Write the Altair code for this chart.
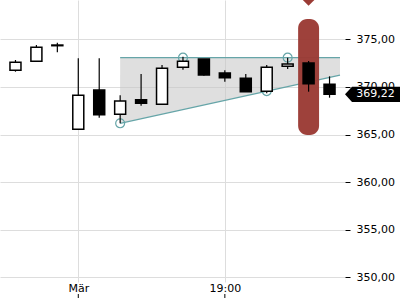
import altair as alt
import pandas as pd

# ---- data ----
idx = list(range(16))
opens  = [371.74, 372.69, 374.40, 365.55, 369.67, 367.12, 368.66, 368.17, 372.06, 372.93, 371.46, 370.90, 369.54, 372.16, 372.51, 370.27]
highs  = [372.83, 374.40, 374.64, 373.00, 373.00, 369.12, 371.36, 372.30, 373.17, 372.93, 371.74, 371.36, 372.30, 373.07, 372.72, 371.11]
lows   = [371.60, 372.69, 373.63, 365.55, 366.76, 366.18, 368.03, 368.17, 371.81, 371.18, 370.55, 369.50, 369.33, 371.88, 369.50, 368.87]
closes = [372.58, 374.16, 374.33, 369.12, 367.08, 368.52, 368.28, 371.95, 372.69, 371.25, 370.97, 369.50, 372.06, 372.41, 370.34, 369.22]

# triangle / channel pattern
chan_x = [5, 15.5]
chan_upper = [373.07, 373.07]
chan_lower = [366.18, 371.25]
touch_x = [5, 8, 12, 13]
touch_y = [366.18, 373.07, 369.56, 373.07]

# highlight
hl_idx = [14]
hl_top = [377.13]
hl_bottom = [364.95]
marker_y = [379.23]

x_tick_idx = [3, 10]
x_tick_labels = ["Mär", "19:00"]
y_ticks = [350, 355, 360, 365, 370, 375]
y_domain = [349.51, 379.13]
x_domain = [-0.5, 15.5]

TEAL = "#66a5a8"
RED = "#9b3b35"
W, H = 345, 282

df = pd.DataFrame({"i": idx, "open": opens, "high": highs, "low": lows, "close": closes})
chan = pd.DataFrame({"x": chan_x, "up": chan_upper, "lo": chan_lower})
touch = pd.DataFrame({"x": touch_x, "y": touch_y})
hl = pd.DataFrame({"i": hl_idx, "top": hl_top, "bot": hl_bottom, "m": marker_y})
ticks = pd.DataFrame({"x": x_tick_idx})
last = df.tail(1)

label_expr = " : ".join(
    [f"datum.value == {v} ? '{l}'" for v, l in zip(x_tick_idx[:-1], x_tick_labels[:-1])]
    + [f"'{x_tick_labels[-1]}'"]
)

xs = alt.Scale(domain=x_domain, nice=False, zero=False)
ys = alt.Scale(domain=y_domain, nice=False, zero=False)

x_axis = alt.Axis(values=x_tick_idx, labelExpr=label_expr, ticks=False, domain=False,
                  grid=True, gridColor="#dddddd", labelPadding=0, labelFontSize=11,
                  labelFont="DejaVu Sans", labelColor="#000000", title=None)
y_axis = alt.Axis(orient="right", values=y_ticks, grid=True, gridColor="#dddddd",
                  domain=False, tickSize=5, tickColor="#000000", labelPadding=6,
                  labelFontSize=11, labelFont="DejaVu Sans", labelColor="#000000",
                  labelExpr="replace(format(datum.value, '.2f'), '.', ',')", title=None)

base = alt.Chart(df)

area = alt.Chart(chan).mark_area(color="#c4c4c4", opacity=0.55).encode(
    x=alt.X("x:Q", scale=xs, axis=x_axis),
    y=alt.Y("up:Q", scale=ys, axis=y_axis),
    y2="lo:Q",
)
line_up = alt.Chart(chan).mark_line(color=TEAL, strokeWidth=1.3).encode(
    x=alt.X("x:Q", scale=xs), y=alt.Y("up:Q", scale=ys))
line_lo = alt.Chart(chan).mark_line(color=TEAL, strokeWidth=1.3).encode(
    x=alt.X("x:Q", scale=xs), y=alt.Y("lo:Q", scale=ys))
circles = alt.Chart(touch).mark_point(shape="circle", size=80, color=TEAL, filled=False,
                                      strokeWidth=1.2, opacity=1).encode(
    x=alt.X("x:Q", scale=xs), y=alt.Y("y:Q", scale=ys))

highlight = alt.Chart(hl).transform_calculate(
    x0="datum.i - 0.5", x1="datum.i + 0.5"
).mark_bar(color=RED, cornerRadius=9, opacity=0.97).encode(
    x=alt.X("x0:Q", scale=xs), x2="x1:Q",
    y=alt.Y("top:Q", scale=ys), y2="bot:Q")

marker = alt.Chart(hl).mark_point(shape="diamond", size=180, filled=True, color=RED,
                                  opacity=1).encode(
    x=alt.X("i:Q", scale=xs), y=alt.Y("m:Q", scale=ys))

wicks = base.mark_rule(color="#000000", strokeWidth=1.2).encode(
    x=alt.X("i:Q", scale=xs), y=alt.Y("low:Q", scale=ys), y2="high:Q")

bodies = base.mark_bar(size=11, stroke="#000000", strokeWidth=1.5).encode(
    x=alt.X("i:Q", scale=xs), y=alt.Y("open:Q", scale=ys), y2="close:Q",
    fill=alt.condition("datum.close >= datum.open", alt.value("#ffffff"), alt.value("#000000")),
)

tag = alt.Chart(last).mark_point(
    shape="M-1,0 L-0.745,-0.28 L1,-0.28 L1,0.28 L-0.745,0.28 Z",
    size=3025, filled=True, color="#000000", opacity=1, strokeWidth=0,
).encode(x=alt.value(372.5), y=alt.Y("close:Q", scale=ys))

tag_text = alt.Chart(last).transform_calculate(
    lab="replace(format(datum.close, '.2f'), '.', ',')"
).mark_text(color="#ffffff", fontSize=11, font="DejaVu Sans", align="center",
            baseline="middle").encode(
    x=alt.value(375.5), y=alt.Y("close:Q", scale=ys), text="lab:N")

xticks = alt.Chart(ticks).mark_rule(color="#000000", strokeWidth=1).encode(
    x=alt.X("x:Q", scale=xs), y=alt.value(294), y2=alt.value(298))

chart = alt.layer(
    area, line_up, line_lo, circles, highlight, wicks, bodies, marker, tag, tag_text, xticks
).properties(
    width=W, height=H, background="#ffffff",
    autosize=alt.AutoSizeParams(type="none"),
    padding={"left": 0, "top": 0, "right": 400 - W, "bottom": 300 - H},
).configure_view(stroke=None)

chart.save("out.html", embed_options={"renderer": "svg", "actions": False})
